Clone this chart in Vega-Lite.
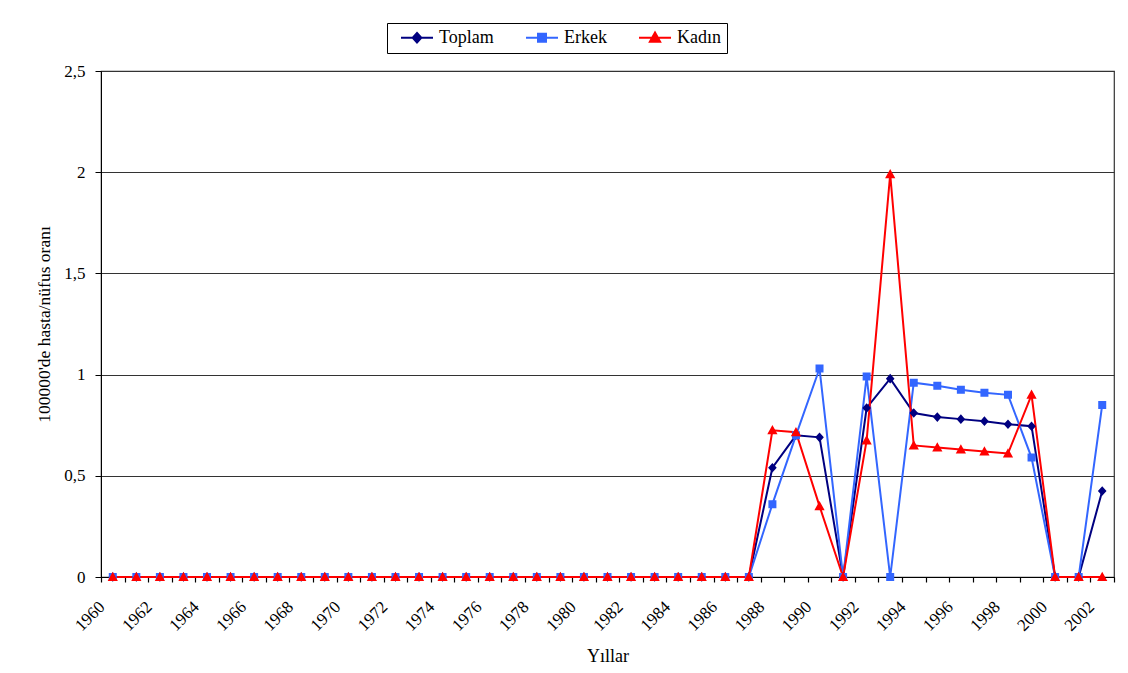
{
  "$schema": "https://vega.github.io/schema/vega-lite/v6.json",
  "autosize": "none",
  "width": 1013,
  "height": 506,
  "padding": {"left": 101, "top": 71, "right": 14, "bottom": 96},
  "background": "white",
  "config": {
    "font": "Liberation Serif",
    "view": {"stroke": "#333333", "strokeWidth": 1.2},
    "axis": {
      "labelFont": "Liberation Serif",
      "titleFont": "Liberation Serif",
      "labelColor": "black",
      "titleColor": "black",
      "titleFontWeight": "normal",
      "domainColor": "black",
      "tickColor": "black"
    },
    "legend": {"labelFont": "Liberation Serif"}
  },
  "data": {
    "values": [
      {"year": 1960, "Toplam": 0, "Erkek": 0, "Kadın": 0},
      {"year": 1961, "Toplam": 0, "Erkek": 0, "Kadın": 0},
      {"year": 1962, "Toplam": 0, "Erkek": 0, "Kadın": 0},
      {"year": 1963, "Toplam": 0, "Erkek": 0, "Kadın": 0},
      {"year": 1964, "Toplam": 0, "Erkek": 0, "Kadın": 0},
      {"year": 1965, "Toplam": 0, "Erkek": 0, "Kadın": 0},
      {"year": 1966, "Toplam": 0, "Erkek": 0, "Kadın": 0},
      {"year": 1967, "Toplam": 0, "Erkek": 0, "Kadın": 0},
      {"year": 1968, "Toplam": 0, "Erkek": 0, "Kadın": 0},
      {"year": 1969, "Toplam": 0, "Erkek": 0, "Kadın": 0},
      {"year": 1970, "Toplam": 0, "Erkek": 0, "Kadın": 0},
      {"year": 1971, "Toplam": 0, "Erkek": 0, "Kadın": 0},
      {"year": 1972, "Toplam": 0, "Erkek": 0, "Kadın": 0},
      {"year": 1973, "Toplam": 0, "Erkek": 0, "Kadın": 0},
      {"year": 1974, "Toplam": 0, "Erkek": 0, "Kadın": 0},
      {"year": 1975, "Toplam": 0, "Erkek": 0, "Kadın": 0},
      {"year": 1976, "Toplam": 0, "Erkek": 0, "Kadın": 0},
      {"year": 1977, "Toplam": 0, "Erkek": 0, "Kadın": 0},
      {"year": 1978, "Toplam": 0, "Erkek": 0, "Kadın": 0},
      {"year": 1979, "Toplam": 0, "Erkek": 0, "Kadın": 0},
      {"year": 1980, "Toplam": 0, "Erkek": 0, "Kadın": 0},
      {"year": 1981, "Toplam": 0, "Erkek": 0, "Kadın": 0},
      {"year": 1982, "Toplam": 0, "Erkek": 0, "Kadın": 0},
      {"year": 1983, "Toplam": 0, "Erkek": 0, "Kadın": 0},
      {"year": 1984, "Toplam": 0, "Erkek": 0, "Kadın": 0},
      {"year": 1985, "Toplam": 0, "Erkek": 0, "Kadın": 0},
      {"year": 1986, "Toplam": 0, "Erkek": 0, "Kadın": 0},
      {"year": 1987, "Toplam": 0, "Erkek": 0, "Kadın": 0},
      {"year": 1988, "Toplam": 0.54, "Erkek": 0.36, "Kadın": 0.725},
      {"year": 1989, "Toplam": 0.70, "Erkek": 0.70, "Kadın": 0.715},
      {"year": 1990, "Toplam": 0.69, "Erkek": 1.03, "Kadın": 0.35},
      {"year": 1991, "Toplam": 0, "Erkek": 0, "Kadın": 0},
      {"year": 1992, "Toplam": 0.835, "Erkek": 0.99, "Kadın": 0.675},
      {"year": 1993, "Toplam": 0.98, "Erkek": 0, "Kadın": 1.99},
      {"year": 1994, "Toplam": 0.81, "Erkek": 0.96, "Kadın": 0.65},
      {"year": 1995, "Toplam": 0.79, "Erkek": 0.945, "Kadın": 0.64},
      {"year": 1996, "Toplam": 0.78, "Erkek": 0.925, "Kadın": 0.63},
      {"year": 1997, "Toplam": 0.77, "Erkek": 0.91, "Kadın": 0.62},
      {"year": 1998, "Toplam": 0.755, "Erkek": 0.90, "Kadın": 0.61},
      {"year": 1999, "Toplam": 0.745, "Erkek": 0.59, "Kadın": 0.90},
      {"year": 2000, "Toplam": 0, "Erkek": 0, "Kadın": 0},
      {"year": 2001, "Toplam": 0, "Erkek": 0, "Kadın": 0},
      {"year": 2002, "Toplam": 0.425, "Erkek": 0.85, "Kadın": 0}
    ]
  },
  "transform": [
    {"fold": ["Toplam", "Erkek", "Kadın"], "as": ["series", "v"]}
  ],
  "encoding": {
    "x": {
      "field": "year",
      "type": "ordinal",
      "scale": {"paddingInner": 0, "paddingOuter": 0},
      "axis": {
        "title": "Yıllar",
        "titleFontSize": 18,
        "titlePadding": 14,
        "labelFontSize": 17,
        "labelAngle": -45,
        "labelAlign": "right",
        "labelBaseline": "middle",
        "labelPadding": 22,
        "labelOffset": -11,
        "labelOverlap": false,
        "labelExpr": "datum.value % 2 === 0 ? datum.label : ''",
        "tickBand": "extent",
        "tickSize": 5,
        "tickWidth": 1.2,
        "grid": false
      }
    },
    "y": {
      "field": "v",
      "type": "quantitative",
      "scale": {"domain": [0, 2.5], "nice": false},
      "axis": {
        "title": "100000'de hasta/nüfus oranı",
        "titleFontSize": 17.5,
        "titlePadding": 10,
        "labelFontSize": 17,
        "labelPadding": 10,
        "labelExpr": "replace(toString(datum.value), '.', ',')",
        "values": [0, 0.5, 1, 1.5, 2, 2.5],
        "tickSize": 6,
        "grid": true,
        "gridColor": "#333333",
        "gridWidth": 1.2,
        "gridOpacity": 1
      }
    },
    "color": {
      "field": "series",
      "type": "nominal",
      "scale": {"domain": ["Toplam", "Erkek", "Kadın"], "range": ["#000080", "#3366FF", "#FF0000"]},
      "legend": {
        "title": null,
        "orient": "none",
        "legendX": 286,
        "legendY": -48,
        "direction": "horizontal",
        "padding": 6,
        "strokeColor": "black",
        "fillColor": "white",
        "symbolSize": 1024,
        "symbolOffset": 7,
        "symbolStrokeWidth": 2,
        "clipHeight": 17,
        "labelOffset": 5,
        "columnPadding": 24,
        "labelFont": "Liberation Serif",
        "labelFontSize": 18,
        "labelColor": "black"
      }
    },
    "shape": {
      "field": "series",
      "type": "nominal",
      "scale": {
        "domain": ["Toplam", "Erkek", "Kadın"],
        "range": [
          "M-1,0H1M0,-0.3L0.27,0L0,0.3L-0.27,0Z",
          "M-1,0H1M-0.25,-0.25H0.25V0.25H-0.25Z",
          "M-1,0H1M0,-0.33L0.32,0.25H-0.32Z"
        ]
      }
    }
  },
  "layer": [
    {
      "mark": {"type": "line", "strokeWidth": 2}
    },
    {
      "mark": {"type": "point", "filled": true, "opacity": 1, "size": 1024}
    }
  ]
}
